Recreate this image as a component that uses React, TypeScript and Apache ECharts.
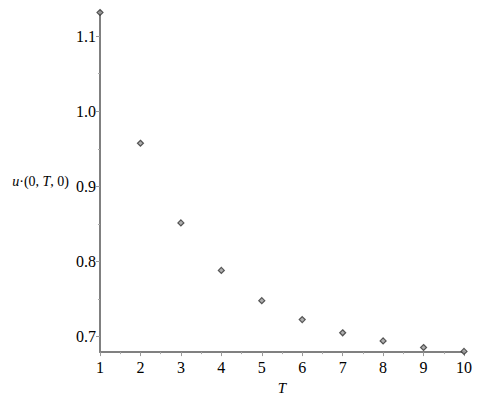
import React, { useEffect, useRef } from "react";
import * as echarts from "echarts";

const T_VALUES = [1, 2, 3, 4, 5, 6, 7, 8, 9, 10];
const U_VALUES = [1.1315, 0.9575, 0.8514, 0.7882, 0.748, 0.7228, 0.7052, 0.6944, 0.6856, 0.6804];
const Y_TICKS = [0.7, 0.8, 0.9, 1.0, 1.1];
const Y_MINOR_TICKS = [0.75, 0.85, 0.95, 1.05];
const Y_MIN = 0.6795;
const Y_MAX = 1.1335;

const FONT = "Times New Roman, Liberation Serif, DejaVu Serif, serif";

export default function App() {
  const ref = useRef<HTMLDivElement>(null);
  useEffect(() => {
    if (!ref.current) return;
    const chart = echarts.init(ref.current, undefined, { renderer: "svg" });
    const axisLineStyle = { color: "#808080", width: 2 };
    chart.setOption({
      animation: false,
      backgroundColor: "#ffffff",
      textStyle: { fontFamily: FONT },
      grid: [{ left: 100, right: 14, top: 11, bottom: 43 }],
      xAxis: [
        {
          type: "value",
          min: 1,
          max: 10,
          interval: 1,
          name: "{i|T}",
          nameLocation: "middle",
          nameGap: 20,
          nameTextStyle: {
            fontFamily: FONT,
            fontSize: 15,
            color: "#000",
            rich: { i: { fontStyle: "italic", fontFamily: FONT, fontSize: 15, color: "#000" } },
          },
          axisLine: { show: true, onZero: false, lineStyle: axisLineStyle },
          axisTick: { show: true, length: 4, lineStyle: { color: "#999", width: 1 } },
          minorTick: { show: true, splitNumber: 2, length: 2, lineStyle: { color: "#aaa", width: 1 } },
          splitLine: { show: false },
          axisLabel: { fontFamily: FONT, fontSize: 16, color: "#000", margin: 7 },
        },
      ],
      yAxis: [
        {
          type: "value",
          min: Y_MIN,
          max: Y_MAX,
          name: "{i|u}·(0, {i|T}, 0)",
          nameLocation: "middle",
          nameRotate: 0,
          nameGap: 31,
          nameTextStyle: {
            fontFamily: FONT,
            fontSize: 14,
            color: "#000",
            align: "right",
            rich: { i: { fontStyle: "italic", fontFamily: FONT, fontSize: 14, color: "#000" } },
          },
          axisLine: { show: true, onZero: false, lineStyle: axisLineStyle },
          axisTick: {
            show: true,
            length: 4,
            customValues: Y_TICKS,
            lineStyle: { color: "#999", width: 1 },
          },
          splitLine: { show: false },
          axisLabel: {
            fontFamily: FONT,
            fontSize: 16,
            color: "#000",
            margin: 4,
            customValues: Y_TICKS,
            formatter: (v: number) => v.toFixed(1),
          },
        },
        {
          type: "value",
          min: Y_MIN,
          max: Y_MAX,
          position: "left",
          axisLine: { show: false },
          axisTick: {
            show: true,
            length: 2,
            customValues: Y_MINOR_TICKS,
            lineStyle: { color: "#aaa", width: 1 },
          },
          axisLabel: { show: false },
          splitLine: { show: false },
        },
      ],
      series: [
        {
          type: "scatter",
          xAxisIndex: 0,
          yAxisIndex: 0,
          symbol: "diamond",
          symbolSize: 6,
          itemStyle: { color: "#9a9a9a", borderColor: "#333", borderWidth: 1.2 },
          data: T_VALUES.map((t, i) => [t, U_VALUES[i]]),
        },
      ],
    });
    return () => chart.dispose();
  }, []);
  return <div ref={ref} style={{ width: 478, height: 400, position: "absolute", left: 0, top: 0 }} />;
}
